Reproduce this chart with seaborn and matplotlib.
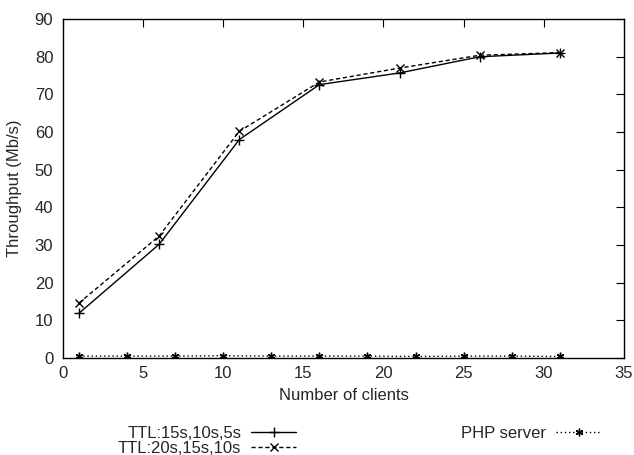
import numpy as np
import pandas as pd
import matplotlib
matplotlib.use('Agg')
import matplotlib.pyplot as plt
import seaborn as sns

# data
clients_ttl = [1, 6, 11, 16, 21, 26, 31]
ttl_15_10_5 = [11.9, 30.2, 58.0, 72.6, 75.7, 80.0, 81.0]
ttl_20_15_10 = [14.6, 32.4, 60.2, 73.3, 77.0, 80.4, 81.1]
clients_php = [1, 4, 7, 10, 13, 16, 19, 22, 25, 28, 31]
php_server = [0.5, 0.5, 0.5, 0.6, 0.5, 0.5, 0.5, 0.4, 0.5, 0.5, 0.4]

sns.set_style('white')
plt.rcParams['font.family'] = ['Liberation Sans', 'DejaVu Sans']
plt.rcParams['xtick.direction'] = 'in'
plt.rcParams['ytick.direction'] = 'in'

fig, ax = plt.subplots(figsize=(6.34, 4.55), dpi=100)
fig.subplots_adjust(left=0.0994, right=0.984, top=0.958, bottom=0.2132)

kw = dict(ax=ax, color='black', lw=1, markeredgewidth=1,
          markeredgecolor='black', markerfacecolor='black')
sns.lineplot(x=clients_ttl, y=ttl_15_10_5, marker='+', markersize=7,
             label='TTL:15s,10s,5s', **kw)
sns.lineplot(x=clients_ttl, y=ttl_20_15_10, linestyle=(0, (3, 2)),
             marker='x', markersize=5.5, label='TTL:20s,15s,10s', **kw)
sns.lineplot(x=clients_php, y=php_server, linestyle=(0, (1, 2)),
             marker=(6, 2, 0), markersize=5.5, label='PHP server', **kw)

ax.set_xlim(0, 35)
ax.set_ylim(0, 90)
ax.set_xticks(range(0, 36, 5))
ax.set_yticks(range(0, 91, 10))
ax.tick_params(axis='both', which='both', top=True, right=True, length=6,
               width=0.8, labelsize=12, color='black')
ax.tick_params(axis='y', pad=7)
ax.tick_params(axis='x', pad=6)
for s in ax.spines.values():
    s.set_color('black')
    s.set_linewidth(1)

ax.set_xlabel('Number of clients', fontsize=12, labelpad=5)
ax.set_ylabel('Throughput (Mb/s)', fontsize=12, labelpad=9)

handles, labels = ax.get_legend_handles_labels()
ax.get_legend().remove()
fig.legend(handles, labels, loc='upper left', bbox_to_anchor=(0.186, 0.064),
           ncol=2, markerfirst=False, frameon=False, fontsize=12,
           handlelength=2.7, handletextpad=0.6, columnspacing=9.9,
           labelspacing=0.0, borderaxespad=0, borderpad=0)

fig.savefig('out.png', dpi=100)
